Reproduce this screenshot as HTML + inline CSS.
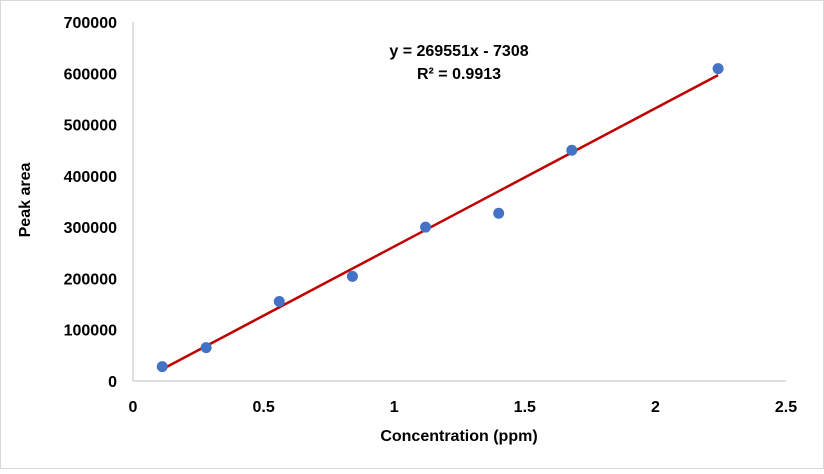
<!DOCTYPE html>
<html><head><meta charset="utf-8"><style>
html,body{margin:0;padding:0;background:#fff;}
svg text{font-family:"Liberation Sans",Arial,sans-serif;font-weight:bold;fill:#000;}
</style></head><body>
<svg id="chart" width="824" height="469" xmlns="http://www.w3.org/2000/svg">
<rect x="0.5" y="0.5" width="823" height="468" fill="#fff" stroke="#d9d9d9"/>
<g id="axes"></g><g id="marks"></g>
<text x="459" y="56" text-anchor="middle" font-size="16">y = 269551x - 7308</text>
<text x="459" y="79" text-anchor="middle" font-size="16">R² = 0.9913</text>
<text x="459" y="441" text-anchor="middle" font-size="16">Concentration (ppm)</text>
<text transform="translate(30,200) rotate(-90)" text-anchor="middle" font-size="16">Peak area</text>
</svg>
<script>
const xValues=[0.112,0.28,0.56,0.84,1.12,1.40,1.68,2.24];
const yValues=[28000,65000,155000,204000,300000,327000,450000,609000];
const xTicks=[0,0.5,1,1.5,2,2.5];
const yTicks=[0,100000,200000,300000,400000,500000,600000,700000];
const slope=269551, intercept=-7308;
const X0=133,X1=786,Y0=381,Y1=22;
const sx=v=>X0+v/2.5*(X1-X0);
const sy=v=>Y0-v/700000*(Y0-Y1);
const NS="http://www.w3.org/2000/svg";
const axes=document.getElementById('axes'),marks=document.getElementById('marks');
function mk(tag,attrs,parent){const e=document.createElementNS(NS,tag);for(const k in attrs)e.setAttribute(k,attrs[k]);parent.appendChild(e);return e;}
let l=mk('line',{x1:X0,y1:Y0,x2:X1,y2:Y0,stroke:'#bfbfbf','stroke-width':1},axes);


l=mk('line',{x1:X0,y1:Y0,x2:X0,y2:Y1,stroke:'#bfbfbf','stroke-width':1},axes);


xTicks.forEach(t=>{const e=mk('text',{x:sx(t),y:412,'text-anchor':'middle','font-size':16},axes);e.textContent=String(t);

});
yTicks.forEach(t=>{const e=mk('text',{x:117,y:sy(t)+6,'text-anchor':'end','font-size':16},axes);e.textContent=String(t);

});
const xa=xValues[0],xb=xValues[xValues.length-1];
const tl=mk('line',{x1:sx(xa),y1:sy(slope*xa+intercept),x2:sx(xb),y2:sy(slope*xb+intercept),stroke:'#c00000','stroke-width':2.5},marks);


xValues.forEach((v,i)=>{const c=mk('circle',{cx:sx(v),cy:sy(yValues[i]),r:5.5,fill:'#4472c4'},marks);

});
</script>
</body></html>
